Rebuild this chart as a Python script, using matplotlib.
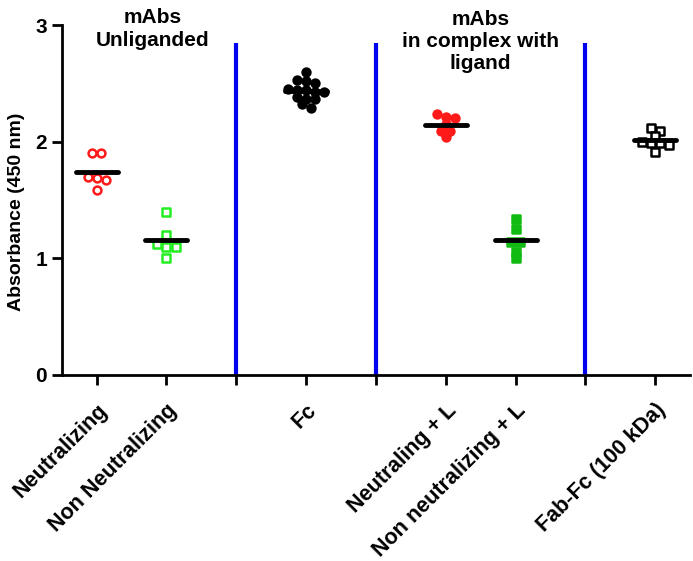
import numpy as np
import matplotlib
matplotlib.use("Agg")
import matplotlib.pyplot as plt

plt.rcParams['font.family'] = ['Liberation Sans', 'DejaVu Sans']
plt.rcParams['font.weight'] = 'bold'

# group labels along x (positions 1..9, blanks are separators)
tick_labels = ["Neutralizing", "Non Neutralizing", "", "Fc", "",
               "Neutraling + L", "Non neutralizing + L", "", "Fab-Fc (100 kDa)"]

neutralizing = [1.90, 1.90, 1.70, 1.69, 1.67, 1.59]
non_neutralizing = [1.40, 1.20, 1.12, 1.10, 1.10, 1.00]
fc = [2.60, 2.53, 2.52, 2.50, 2.45, 2.44, 2.44, 2.43, 2.43,
      2.38, 2.37, 2.37, 2.32, 2.29]
neutraling_l = [2.24, 2.21, 2.20, 2.15, 2.09, 2.09, 2.04]
non_neutralizing_l = [1.34, 1.25, 1.14, 1.14, 1.05, 1.00]
fab_fc = [2.12, 2.09, 2.05, 2.00, 1.99, 1.99, 1.97, 1.91]

separators = [3, 5, 8]
separator_top = 2.85

# (x position, values, marker, face, edge)
groups = [
    (1, neutralizing, 'o', 'white', '#ff1a1a'),
    (2, non_neutralizing, 's', 'white', '#22ee22'),
    (4, fc, 'o', 'black', 'black'),
    (6, neutraling_l, 'o', '#ff1a1a', '#ff1a1a'),
    (7, non_neutralizing_l, 's', '#11bb11', '#11bb11'),
    (9, fab_fc, 's', 'white', 'black'),
]


def swarm_offsets(vals, bin_h=0.04, step=0.13):
    # scatter-dot layout: points close in height share a row and spread sideways
    vals = np.asarray(vals)
    order = np.argsort(-vals)
    rows, cur, start = [], [], None
    for i in order:
        if start is None or start - vals[i] <= bin_h + 1e-9:
            if start is None:
                start = vals[i]
            cur.append(i)
        else:
            rows.append(cur)
            cur, start = [i], vals[i]
    rows.append(cur)
    offs = np.zeros(len(vals))
    for r in rows:
        n = len(r)
        offs[r] = (np.arange(n) - (n - 1) / 2) * step
    return offs


fig = plt.figure(figsize=(6.93, 5.61), dpi=100)
ax = fig.add_axes([0.089, 0.332, 0.907, 0.623])

for x, vals, mk, fc_, ec in groups:
    xs = x + swarm_offsets(vals)
    ax.scatter(xs, vals, marker=mk, s=32 if mk == 'o' else 28,
               facecolors=fc_, edgecolors=ec, linewidths=1.8, zorder=3)
    m = np.mean(vals)
    ax.plot([x - 0.3, x + 0.3], [m, m], color='black', lw=3.5,
            solid_capstyle='round', zorder=4)

ax.vlines(separators, 0, separator_top, colors='#0000ee', lw=3, zorder=2)

ax.text(1.8, 2.97, "mAbs\nUnliganded", ha='center', va='center',
        fontsize=15, fontweight='bold', linespacing=1.25)
ax.text(6.5, 2.86, "mAbs\nin complex with\nligand", ha='center', va='center',
        fontsize=15, fontweight='bold', linespacing=1.2)

ax.set_xlim(0.5, 9.5)
ax.set_ylim(0, 3)
ax.set_yticks([0, 1, 2, 3])
ax.set_xticks(range(1, 10))
ax.set_xticklabels(tick_labels, rotation=45, ha='right', rotation_mode='anchor',
                   fontsize=15.5, fontweight='bold')
for t in ax.get_yticklabels():
    t.set_fontsize(15)
    t.set_fontweight('bold')
ax.set_ylabel("Absorbance (450 nm)", fontsize=14, fontweight='bold')
ax.yaxis.set_label_coords(-0.058, 0.465)

for s in ['top', 'right']:
    ax.spines[s].set_visible(False)
for s in ['left', 'bottom']:
    ax.spines[s].set_linewidth(2)
ax.tick_params(axis='both', width=2, length=7, direction='out')
ax.tick_params(axis='x', pad=11)

fig.savefig("out.png", dpi=100)
